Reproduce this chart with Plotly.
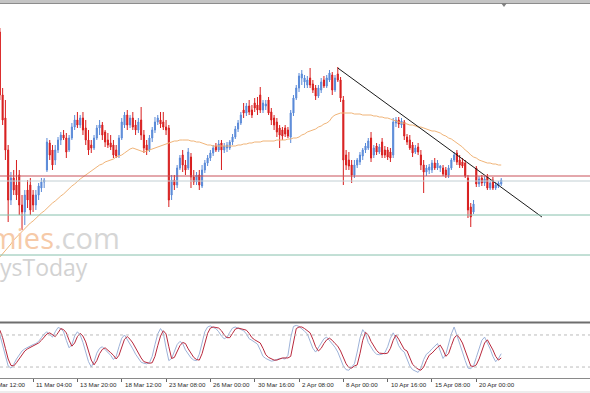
import plotly.graph_objects as go

W, H = 590, 393

# H4 candles, prices in points (1 pt = 0.0001) above 1.1000
OPEN = [268,205,182,150,100,122,115,125,95,88, 110,115,105,95,105,112,118,130,157,150,
        140,150,160,165,162,150,162,173,180,175, 182,172,160,155,152,162,172,175,168,160,
        157,155,150,145,162,175,185,175,182,175, 170,180,165,155,150,162,170,178,180,178,
        173,172,105,120,115,132,145,135,132,143, 123,118,125,114,130,137,142,147,154,150,
        157,150,152,152,158,163,171,177,190,187, 194,190,197,195,205,190,194,200,188,182,
        178,172,170,172,170,163,187,202,212,222, 218,215,222,216,212,204,210,220,214,220,
        225,210,226,220,200,145,140,135,125,135, 138,144,150,152,162,145,154,148,158,150,
        150,148,145,177,180,175,178,163,160,155, 148,153,145,135,128,130,130,137,132,132,
        132,130,125,132,140,147,140,138,137,122, 93,88,132,116,122,117,123,112,120,112,
        114,116]
HIGH = [272,212,200,155,128,130,140,130,105,110, 120,122,110,110,117,122,122,162,160,155,
        155,163,168,170,167,165,177,185,188,185, 188,180,170,160,165,175,180,178,170,167,
        165,160,155,165,182,188,190,185,188,180, 182,193,170,160,165,173,183,185,188,188,
        180,175,125,125,135,145,150,140,152,147, 130,128,130,135,140,145,150,155,157,160,
        160,157,158,160,166,174,180,188,197,197, 200,195,202,203,213,200,200,203,192,185,
        182,175,173,175,173,190,205,215,227,230, 225,224,232,220,215,215,222,224,225,230,
        228,225,233,223,204,150,148,140,140,142, 148,152,157,162,168,155,157,156,162,154,
        153,152,182,183,183,182,180,166,165,158, 155,157,150,140,135,136,140,142,140,135,
        135,133,135,142,148,150,145,142,140,125, 97,100,134,124,125,124,126,120,123,118,
        119,122]
LOW = [200,175,140,78,95,105,100,85,70,75, 92,85,88,90,100,108,112,128,140,130,
       135,147,155,160,142,148,160,170,172,172, 165,155,145,147,150,160,165,160,153,152,
       150,142,142,142,160,172,170,172,170,165, 167,160,147,145,148,158,167,175,172,170,
       165,93,100,110,112,130,128,125,130,112, 115,115,110,112,127,134,139,144,148,148,
       130,147,148,150,155,161,168,175,182,184, 185,182,188,185,187,187,190,185,175,170,
       163,152,160,163,162,157,184,200,208,215, 212,212,212,207,200,202,207,212,212,218,
       205,208,218,198,115,130,130,117,122,132, 135,140,147,150,138,142,145,146,142,142,
       140,138,142,173,172,172,160,155,150,143, 146,145,130,107,124,126,127,130,130,128,
       124,122,122,130,138,135,132,132,122,82, 73,86,113,113,114,114,110,110,110,110,
       112,114]
CLOSE = [205,180,150,100,122,110,105,95,88,105, 100,90,95,105,114,118,120,158,145,135,
         150,160,165,162,148,162,173,180,175,182, 170,160,150,152,162,172,175,165,158,155,
         153,145,144,162,178,185,175,182,173,170, 178,165,152,150,162,170,178,182,176,173,
         170,100,120,115,132,142,135,130,148,123, 118,125,115,130,137,142,147,152,150,156,
         150,154,155,158,163,171,177,185,187,194, 188,185,192,190,190,197,196,187,180,175,
         168,165,164,166,164,187,202,212,224,226, 222,220,215,210,204,212,218,214,222,227,
         210,222,220,202,140,135,134,125,135,140, 145,150,154,159,142,152,148,153,145,145,
         143,142,178,180,176,179,164,158,152,147, 152,148,135,128,132,133,137,132,137,134,
         126,125,132,140,145,138,135,134,124,90, 83,96,116,121,117,121,112,117,112,115,
         117,120]
MA = [43,46,49,53,56,60,63,66,69,72, 74,77,79,82,84,87,89,92,94,97,
      99,102,104,106,109,111,114,116,119,121, 123,125,127,129,131,133,135,136,138,139,
      140,141,143,144,145,147,149,151,152,151, 150,149,148,149,150,151,152,153,154,155,
      156,157,158,159,159,160,160,160,160,159, 159,158,158,157,156,155,155,154,154,154,
      154,154,154,154,154,154,155,155,156,156, 157,157,158,158,158,159,159,159,159,159,
      160,160,160,160,161,161,162,162,163,165, 166,168,169,170,171,173,174,176,177,179,
      183,185,186,187,187,187,187,187,186,186, 186,185,185,185,185,184,184,183,183,182,
      182,181,180,179,178,177,177,176,175,175, 174,173,173,172,171,170,169,169,168,167,
      165,164,162,161,159,157,155,153,150,148, 145,143,142,140,139,138,137,137,136,136,
      135,135]
STOCH_K = [80,60,40,22,18,25,35,42,50,54, 57,60,62,64,68,75,82,86,80,76,
           86,94,92,86,70,56,62,78,86,80, 66,48,30,20,30,46,55,58,53,47,
           42,34,40,58,74,80,72,64,54,44, 36,29,27,26,28,40,62,82,92,84,
           56,32,36,50,62,68,64,52,44,37, 33,32,44,66,86,95,97,94,92,86,
           78,73,76,85,93,95,93,90,88,82, 73,70,67,63,52,40,36,33,31,32,
           34,36,36,35,42,75,96,98,96,92, 87,82,70,55,48,56,66,73,76,70,
           62,57,48,35,22,15,14,20,26,48, 74,90,82,66,56,49,44,43,44,47,
           58,74,84,74,60,52,48,36,22,15, 12,10,18,34,44,48,54,60,64,50,
           36,44,64,82,95,78,62,48,32,18, 17,22,38,55,70,76,66,54,40,30,
           36,45]
STOCH_D = [89,75,55,35,23,22,28,36,44,50, 54,57,60,63,65,70,76,82,84,80,
           77,84,92,90,84,70,59,65,77,83, 78,67,50,33,24,32,45,53,56,52,
           47,42,35,42,58,72,77,72,65,55, 45,37,30,28,27,28,40,60,78,88,
           82,58,36,38,50,60,66,64,54,45, 38,34,33,45,65,83,93,95,94,93,
           88,80,75,75,83,91,93,92,90,89, 83,75,71,68,65,55,43,38,35,33,
           33,35,37,37,37,40,70,92,95,95, 92,88,84,72,58,50,55,64,71,74,
           70,64,59,50,38,26,19,18,22,24, 45,70,85,80,68,58,51,46,45,45,
           46,55,70,80,72,62,53,50,38,25, 20,16,14,20,32,42,46,52,57,61,
           52,40,45,60,74,80,74,65,50,35, 22,21,24,35,50,65,71,62,52,40,
           33,37]
BARS = list(range(len(CLOSE)))

LEVEL_RED = [124]
LEVEL_GREY = [119]
LEVEL_GREEN = [85, 45]
TREND_X = [122, 195.7]
TREND_Y = [232, 83]
STOCH_LEVELS = [80, 20]

TICK_BAR = [-4, 12, 28, 44, 60, 76, 92, 108, 124, 140, 156, 172]
TICK_TEXT = ["6 Mar 12:00", "11 Mar 04:00", "13 Mar 20:00", "18 Mar 12:00", "23 Mar 08:00",
             "26 Mar 00:00", "30 Mar 16:00", "2 Apr 08:00", "8 Apr 00:00", "10 Apr 16:00",
             "15 Apr 08:00", "20 Apr 00:00"]

XR = [0.05, 213.05]
MAIN_R = [-21, 296]

def py(px):  # pixel row -> paper fraction
    return 1 - px / H

fig = go.Figure()
fig.add_trace(go.Candlestick(
    x=BARS, open=OPEN, high=HIGH, low=LOW, close=CLOSE,
    increasing=dict(line=dict(color="#5a8ad8", width=1), fillcolor="#5a8ad8"),
    decreasing=dict(line=dict(color="#d81e1e", width=1), fillcolor="#d81e1e"),
    whiskerwidth=0, xaxis="x", yaxis="y", showlegend=False, hoverinfo="skip"))
fig.add_trace(go.Scatter(x=BARS, y=MA, mode="lines", line=dict(color="#f0b478", width=1),
                         xaxis="x", yaxis="y", showlegend=False, hoverinfo="skip"))
fig.add_trace(go.Scatter(x=TREND_X, y=TREND_Y, mode="lines", line=dict(color="#1a1a1a", width=1),
                         xaxis="x", yaxis="y", showlegend=False, hoverinfo="skip"))
fig.add_trace(go.Scatter(x=BARS, y=STOCH_K, mode="lines", line=dict(color="#9db2d8", width=1),
                         xaxis="x", yaxis="y2", showlegend=False, hoverinfo="skip"))
fig.add_trace(go.Scatter(x=BARS, y=STOCH_D, mode="lines", line=dict(color="#b8283c", width=1),
                         xaxis="x", yaxis="y2", showlegend=False, hoverinfo="skip"))

shapes = []
for v in LEVEL_RED:
    shapes.append(dict(type="line", xref="paper", x0=0, x1=1, yref="y", y0=v, y1=v,
                       line=dict(color="#c85058", width=1)))
for v in LEVEL_GREY:
    shapes.append(dict(type="line", xref="paper", x0=0, x1=1, yref="y", y0=v, y1=v,
                       line=dict(color="#c2cfd3", width=1)))
for v in LEVEL_GREEN:
    shapes.append(dict(type="line", xref="paper", x0=0, x1=1, yref="y", y0=v, y1=v,
                       line=dict(color="#86c0ac", width=1)))
for v in STOCH_LEVELS:
    shapes.append(dict(type="line", xref="paper", x0=0, x1=1, yref="y2", y0=v, y1=v,
                       line=dict(color="#bcbcbc", width=1, dash="dot")))
# frame elements
shapes.append(dict(type="rect", xref="paper", yref="paper", x0=0, x1=1, y0=py(3), y1=1,
                   fillcolor="#c4c4c4", line=dict(width=0), layer="above"))
shapes.append(dict(type="line", xref="paper", yref="paper", x0=0, x1=1, y0=py(3.5), y1=py(3.5),
                   line=dict(color="#8c8c8c", width=1), layer="above"))
tx = 504 / W
shapes.append(dict(type="path", xref="paper", yref="paper",
                   path=f"M {tx-3/W},{py(3)} L {tx+3/W},{py(3)} L {tx},{py(7)} Z",
                   fillcolor="#808080", line=dict(width=0), layer="above"))
shapes.append(dict(type="line", xref="paper", yref="paper", x0=0, x1=1, y0=py(322.5), y1=py(322.5),
                   line=dict(color="#6e6e6e", width=2), layer="above"))
shapes.append(dict(type="rect", xref="paper", yref="paper", x0=0, x1=1, y0=0, y1=py(391),
                   fillcolor="#ededed", line=dict(width=0), layer="below"))

annotations = []
for b, t in zip(TICK_BAR, TICK_TEXT):
    annotations.append(dict(text=t, xref="paper", yref="paper",
                            x=(b - XR[0]) / (XR[1] - XR[0]), y=py(384.5),
                            xanchor="left", yanchor="middle", xshift=1, showarrow=False,
                            font=dict(family="Liberation Sans", size=6.2, color="#2a2a2a")))
annotations.append(dict(text="<span style='color:#f6caa8'>Economies</span><span style='color:#d6d6d6'>.com</span>",
                        xref="paper", yref="paper", x=122 / W, y=py(237), xanchor="right", yanchor="middle",
                        showarrow=False, font=dict(family="Open Sans", size=29)))
annotations.append(dict(text="ysToday", xref="paper", yref="paper", x=90 / W, y=py(267),
                        xanchor="right", yanchor="middle", showarrow=False,
                        font=dict(family="Open Sans", size=23, color="#d2d2d2")))

fig.update_layout(
    width=W, height=H, margin=dict(l=0, r=0, t=0, b=0),
    paper_bgcolor="white", plot_bgcolor="white", showlegend=False,
    boxgap=0.45,
    xaxis=dict(domain=[0, 1], range=XR, anchor="y2", showgrid=False, zeroline=False,
               showline=True, linecolor="#8a8a8a", linewidth=1, ticks="outside", ticklen=3,
               tickcolor="#666666", tickvals=TICK_BAR[1:], showticklabels=False,
               rangeslider=dict(visible=False), fixedrange=True),
    yaxis=dict(domain=[py(321), py(4)], range=MAIN_R, visible=False, fixedrange=True),
    yaxis2=dict(domain=[py(377.7), py(324.3)], range=[0, 100], visible=False, fixedrange=True),
    shapes=shapes, annotations=annotations,
)

fig.write_html("out.html", config={"displayModeBar": False})
